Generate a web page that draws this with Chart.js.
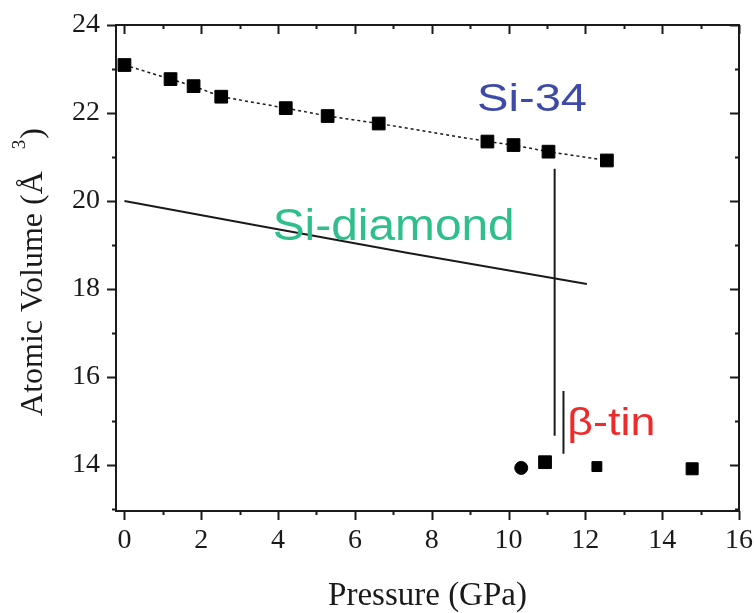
<!DOCTYPE html>
<html lang="en">
<head>
  <meta charset="UTF-8">
  <title>Atomic Volume vs Pressure</title>
  <script src="https://cdn.jsdelivr.net/npm/chart.js"></script>
  <style>
    html, body {
      margin: 0;
      padding: 0;
      background: #fff;
      overflow: hidden;
    }
    #wrap {
      width: 754px;
      height: 613px;
    }
  </style>
</head>
<body>
  <div id="wrap"><canvas id="grafico"></canvas></div>

  <script>
    // Si-34 clathrate (squares joined by dotted line)
    const si34P = [0, 1.2, 1.8, 2.52, 4.2, 5.29, 6.62, 9.45, 10.13, 11.04, 12.56];
    const si34V = [23.09, 22.77, 22.61, 22.37, 22.11, 21.93, 21.76, 21.35, 21.27, 21.12, 20.92];

    // Si-diamond equation of state
    const diamondP = [0, 3.53, 7.35, 12.04];
    const diamondV = [20.0, 19.43, 18.82, 18.11];

    // beta-tin points
    const tinP = [10.33, 10.95, 12.3, 14.78];
    const tinV = [13.93, 14.06, 13.96, 13.91];
    const tinStyle = ["circle", "rect", "rect", "rect"];
    const tinSize = [6.5, 9, 7, 8.5];

    // transition markers
    const transA_P = [11.2, 11.2];
    const transA_V = [20.73, 14.66];
    const transB_P = [11.43, 11.43];
    const transB_V = [15.68, 14.25];

    // axis ranges / ticks
    const xMin = -0.22, xMax = 16, xStep = 2;
    const yMin = 12.95, yMax = 24, yStep = 2;

    // phase labels: [text, pressure, volume (baseline), colour, font size, width]
    const labels = [
      ["Si-34", 9.18, 22.05, "#3d4aa8", 38, 110],
      ["Si-diamond", 3.86, 19.11, "#2fbf8c", 44, 242],
      ["\u03b2-tin", 11.53, 14.68, "#ef2a2a", 38, 88]
    ];

    const pts = (xs, ys) => xs.map((x, i) => ({ x: x, y: ys[i] }));
    const ink = "#1a1a1a";
    const serif = "'Liberation Serif', 'Times New Roman', serif";

    // box frame with ticks: outward on bottom/left, inward on top/right
    const frame = {
      id: "frame",
      afterDatasetsDraw(chart) {
        const { ctx, chartArea: a, scales } = chart;
        const xs = scales.x, ys = scales.y;
        ctx.save();
        ctx.strokeStyle = ink;
        ctx.lineWidth = 2;
        ctx.strokeRect(a.left, a.top, a.right - a.left, a.bottom - a.top);

        const major = 9, minor = 4;
        const xt = xs.ticks.map(t => t.value);
        const yt = ys.ticks.map(t => t.value);
        const xMinor = [], yMinor = [];
        for (let i = 0; i < xt.length - 1; i++) xMinor.push((xt[i] + xt[i + 1]) / 2);
        for (let i = 0; i < yt.length - 1; i++) yMinor.push((yt[i] + yt[i + 1]) / 2);
        yMinor.push(yt[0] - (yt[1] - yt[0]) / 2);
        yMinor.push(yt[yt.length - 1] + (yt[1] - yt[0]) / 2);

        ctx.beginPath();
        const xTick = (v, len) => {
          const px = Math.round(xs.getPixelForValue(v)) + 0.5;
          if (px < a.left - 1 || px > a.right + 1) return;
          ctx.moveTo(px, a.bottom); ctx.lineTo(px, a.bottom + len);
          ctx.moveTo(px, a.top); ctx.lineTo(px, a.top + len);
        };
        const yTick = (v, len) => {
          const py = Math.round(ys.getPixelForValue(v)) + 0.5;
          if (py < a.top - 1 || py > a.bottom + 1) return;
          ctx.moveTo(a.left, py); ctx.lineTo(a.left - len, py);
          ctx.moveTo(a.right, py); ctx.lineTo(a.right - len, py);
        };
        xt.forEach(v => xTick(v, major));
        xMinor.forEach(v => xTick(v, minor));
        yt.forEach(v => yTick(v, major));
        yMinor.forEach(v => yTick(v, minor));
        ctx.stroke();
        ctx.restore();
      }
    };

    // y axis title, with a raised "3" for the cube
    const yTitle = {
      id: "yTitle",
      afterDraw(chart) {
        const { ctx, chartArea: a } = chart;
        const main = "Atomic Volume (\u00c5";
        ctx.save();
        ctx.fillStyle = ink;
        ctx.textBaseline = "alphabetic";
        ctx.textAlign = "left";
        ctx.font = "32px " + serif;
        const wMain = ctx.measureText(main).width;
        const wClose = ctx.measureText(")").width;
        ctx.font = "19px " + serif;
        const wSup = ctx.measureText("3").width;
        const gap = 22;
        const total = wMain + gap + wSup + 1 + wClose;
        const cy = (a.top + a.bottom) / 2 + 4;
        ctx.translate(42, cy + total / 2);
        ctx.rotate(-Math.PI / 2);
        ctx.font = "32px " + serif;
        ctx.fillText(main, 0, 0);
        ctx.font = "19px " + serif;
        ctx.fillText("3", wMain + gap, -17);
        ctx.font = "32px " + serif;
        ctx.fillText(")", wMain + gap + wSup + 1, 0);
        ctx.restore();
      }
    };

    // coloured phase names
    const phaseNames = {
      id: "phaseNames",
      afterDatasetsDraw(chart) {
        const { ctx, scales } = chart;
        ctx.save();
        labels.forEach(([txt, p, v, col, size, w]) => {
          ctx.font = size + "px 'Liberation Sans', Arial, sans-serif";
          ctx.fillStyle = col;
          ctx.textBaseline = "alphabetic";
          ctx.textAlign = "left";
          const sx = w / ctx.measureText(txt).width;
          ctx.save();
          ctx.translate(scales.x.getPixelForValue(p), scales.y.getPixelForValue(v));
          ctx.scale(sx, 1);
          ctx.fillText(txt, 0, 0);
          ctx.restore();
        });
        ctx.restore();
      }
    };

    new Chart(document.getElementById("grafico"), {
      type: "scatter",
      data: {
        datasets: [
          {
            label: "Si-34",
            data: pts(si34P, si34V),
            showLine: true,
            borderColor: ink,
            borderWidth: 1.5,
            borderDash: [3, 3],
            pointStyle: "rect",
            pointRadius: 9,
            pointBackgroundColor: "#000",
            pointBorderColor: "#000",
            pointBorderWidth: 1
          },
          {
            label: "Si-diamond",
            data: pts(diamondP, diamondV),
            showLine: true,
            borderColor: ink,
            borderWidth: 2,
            pointRadius: 0
          },
          {
            label: "beta-tin",
            data: pts(tinP, tinV),
            pointStyle: tinStyle,
            pointRadius: tinSize,
            pointBackgroundColor: "#000",
            pointBorderColor: "#000",
            pointBorderWidth: 1
          },
          {
            label: "transition",
            data: pts(transA_P, transA_V),
            showLine: true,
            borderColor: ink,
            borderWidth: 2,
            pointRadius: 0
          },
          {
            label: "transition 2",
            data: pts(transB_P, transB_V),
            showLine: true,
            borderColor: ink,
            borderWidth: 2,
            pointRadius: 0
          }
        ]
      },
      options: {
        responsive: true,
        maintainAspectRatio: false,
        animation: false,
        layout: { padding: { top: 25, right: 15, left: 0, bottom: 0 } },
        plugins: {
          legend: { display: false },
          tooltip: { enabled: false }
        },
        scales: {
          x: {
            type: "linear",
            min: xMin,
            max: xMax,
            grid: { display: false, drawTicks: false },
            border: { display: false },
            ticks: {
              stepSize: xStep,
              includeBounds: false,
              padding: 13,
              color: ink,
              font: { family: serif, size: 28 },
              maxRotation: 0
            },
            title: {
              display: true,
              text: "Pressure (GPa)",
              color: ink,
              font: { family: serif, size: 33, lineHeight: 1 },
              padding: { top: 0, bottom: 0 }
            },
            afterFit(s) {
              s.height = 102;
              s.paddingLeft = 0;
              s.paddingRight = 0;
            }
          },
          y: {
            type: "linear",
            min: yMin,
            max: yMax,
            grid: { display: false, drawTicks: false },
            border: { display: false },
            ticks: {
              stepSize: yStep,
              includeBounds: false,
              padding: 16,
              color: ink,
              font: { family: serif, size: 28 }
            },
            afterFit(s) {
              s.width = 116;
              s.paddingTop = 0;
              s.paddingBottom = 0;
            }
          }
        }
      },
      plugins: [frame, phaseNames, yTitle]
    });
  </script>
</body>
</html>
